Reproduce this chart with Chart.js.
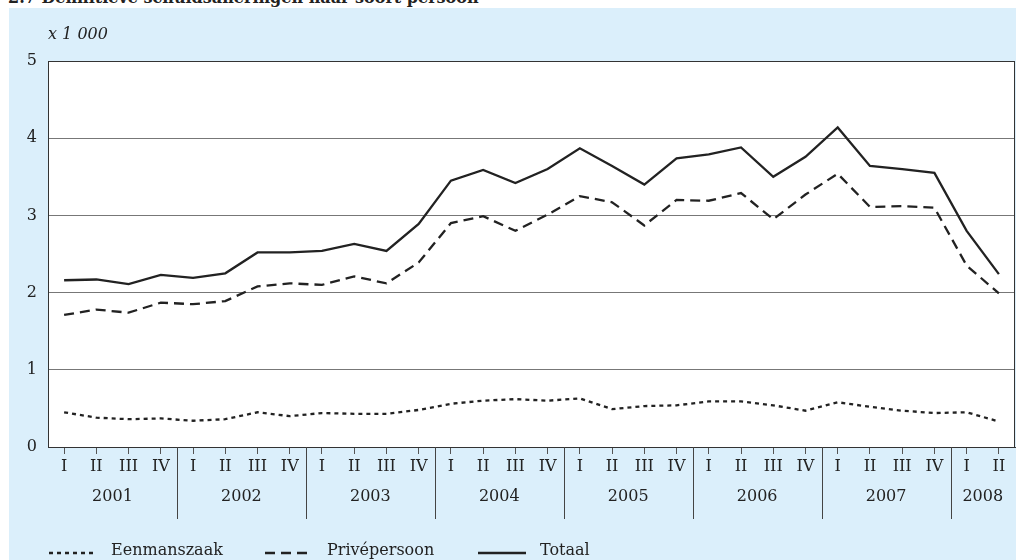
<!DOCTYPE html>
<html>
<head>
<meta charset="utf-8">
<script src="https://cdn.jsdelivr.net/npm/chart.js@4/dist/chart.umd.min.js"></script>
<style>
    html, body { margin: 0; padding: 0; background: #fff; }
    body { width: 1016px; height: 560px; position: relative; overflow: hidden; font-family: 'DejaVu Serif', serif; color: #222; }
    #title { position: absolute; left: 8px; top: -10px; font-size: 16px; line-height: 16px; font-weight: bold; white-space: nowrap; }
    #panel { position: absolute; left: 9px; top: 8px; width: 1007px; height: 552px; background: #dbeffb; }
    #unit { position: absolute; left: 39px; top: 16px; font-size: 16px; font-style: italic; white-space: nowrap; }
    #legend { position: absolute; left: 0; top: 529px; width: 1007px; height: 22px; }
    .legend-item { position: absolute; top: 0; height: 22px; font-size: 16px; white-space: nowrap; }
    .legend-item svg { position: absolute; left: 0; top: 14px; }
    .legend-item span { position: absolute; top: 3px; }
</style>
</head>
<body>
<div id="title">2.7  Definitieve schuldsaneringen naar soort persoon</div>
<div id="panel">
    <canvas id="chart"></canvas>
    <div id="unit">x 1 000</div>
    <div id="legend"></div>
</div>
<script>
const QUARTERS = ['I', 'II', 'III', 'IV', 'I', 'II', 'III', 'IV', 'I', 'II', 'III', 'IV',
    'I', 'II', 'III', 'IV', 'I', 'II', 'III', 'IV', 'I', 'II', 'III', 'IV',
    'I', 'II', 'III', 'IV', 'I', 'II'];
const YEARS = ['2001', '2002', '2003', '2004', '2005', '2006', '2007', '2008'];
const QUARTERS_PER_YEAR = [4, 4, 4, 4, 4, 4, 4, 2];
const Y_TICKS = [0, 1, 2, 3, 4, 5];

const eenmanszaak = [0.45, 0.38, 0.36, 0.37, 0.34, 0.36, 0.45, 0.40, 0.44, 0.43, 0.43, 0.48,
    0.56, 0.60, 0.62, 0.60, 0.63, 0.49, 0.53, 0.54, 0.59, 0.59, 0.54, 0.47,
    0.58, 0.52, 0.47, 0.44, 0.45, 0.33];
const privepersoon = [1.71, 1.78, 1.74, 1.87, 1.85, 1.89, 2.08, 2.12, 2.10, 2.21, 2.12, 2.39,
    2.90, 2.99, 2.80, 3.01, 3.25, 3.17, 2.87, 3.20, 3.19, 3.29, 2.95, 3.27,
    3.54, 3.11, 3.12, 3.10, 2.35, 1.99];
const totaal = [2.16, 2.17, 2.11, 2.23, 2.19, 2.25, 2.52, 2.52, 2.54, 2.63, 2.54, 2.89,
    3.45, 3.59, 3.42, 3.60, 3.87, 3.64, 3.40, 3.74, 3.79, 3.88, 3.50, 3.76,
    4.14, 3.64, 3.60, 3.55, 2.80, 2.24];

const FONT = 'DejaVu Serif';
const INK = '#222';

// achtergrond plotvlak, kader, jaarscheidingen en jaartallen
const yearAxisPlugin = {
    id: 'yearAxis',
    beforeDraw(chart) {
        const a = chart.chartArea;
        const c = chart.ctx;
        c.save();
        c.fillStyle = '#fff';
        c.fillRect(a.left, a.top, a.right - a.left, a.bottom - a.top);
        c.restore();
    },
    afterDraw(chart) {
        const a = chart.chartArea;
        const c = chart.ctx;
        const x = chart.scales.x;
        c.save();
        c.strokeStyle = '#333';
        c.lineWidth = 1;
        c.strokeRect(a.left + 0.5, a.top + 0.5, a.right - a.left - 1, a.bottom - a.top);

        const step = x.getPixelForTick(1) - x.getPixelForTick(0);
        let start = 0;
        c.font = `16px "${FONT}"`;
        c.fillStyle = INK;
        c.textAlign = 'center';
        c.textBaseline = 'middle';
        YEARS.forEach((year, i) => {
            const n = QUARTERS_PER_YEAR[i];
            const left = x.getPixelForTick(start) - step / 2;
            const right = x.getPixelForTick(start + n - 1) + step / 2;
            c.fillText(year, (left + right) / 2, a.bottom + 50);
            if (i > 0) {
                const px = Math.round(left) + 0.5;
                c.strokeStyle = '#444';
                c.beginPath();
                c.moveTo(px, a.bottom);
                c.lineTo(px, a.bottom + 72);
                c.stroke();
            }
            start += n;
        });
        c.restore();
    }
};

const datasets = [
    { label: 'Eenmanszaak', data: eenmanszaak, borderDash: [4, 4] },
    { label: 'Privépersoon', data: privepersoon, borderDash: [10, 6] },
    { label: 'Totaal', data: totaal, borderDash: [] }
].map(d => ({
    ...d,
    borderColor: INK,
    borderWidth: 2.3,
    pointRadius: 0,
    tension: 0,
    fill: false
}));

const ctx = document.getElementById('chart').getContext('2d');
const chart = new Chart(ctx, {
    type: 'line',
    data: { labels: QUARTERS, datasets: datasets },
    plugins: [yearAxisPlugin],
    options: {
        responsive: true,
        maintainAspectRatio: false,
        animation: false,
        layout: { padding: { top: 53, right: 1, left: 0, bottom: 0 } },
        plugins: { legend: { display: false }, tooltip: { enabled: false } },
        scales: {
            x: {
                offset: true,
                afterFit: s => { s.height = 113; },
                grid: { drawOnChartArea: false, drawTicks: true, tickLength: 7, color: '#555', offset: false },
                border: { display: true, color: '#333' },
                ticks: { color: INK, font: { family: FONT, size: 16 }, padding: 3, maxRotation: 0, autoSkip: false }
            },
            y: {
                min: 0,
                max: 5,
                afterFit: s => { s.width = 39; },
                afterBuildTicks: s => { s.ticks = Y_TICKS.map(v => ({ value: v })); },
                grid: { drawTicks: false, color: '#777' },
                border: { display: true, color: '#555' },
                ticks: { color: INK, font: { family: FONT, size: 16 }, padding: 11 }
            }
        }
    }
});

// legenda als gewone tekst
const legendEl = document.getElementById('legend');
const LEGEND_X = [40, 256, 469];
datasets.forEach((d, i) => {
    const item = document.createElement('div');
    item.className = 'legend-item';
    item.style.left = LEGEND_X[i] + 'px';
    item.innerHTML = `
        <svg width="48" height="4"><line x1="0" y1="2" x2="48" y2="2" stroke="${INK}" stroke-width="2.5"
            stroke-dasharray="${d.borderDash.join(' ')}"/></svg>
        <span style="left:62px">${d.label}</span>`;
    legendEl.appendChild(item);
});
</script>
</body>
</html>
